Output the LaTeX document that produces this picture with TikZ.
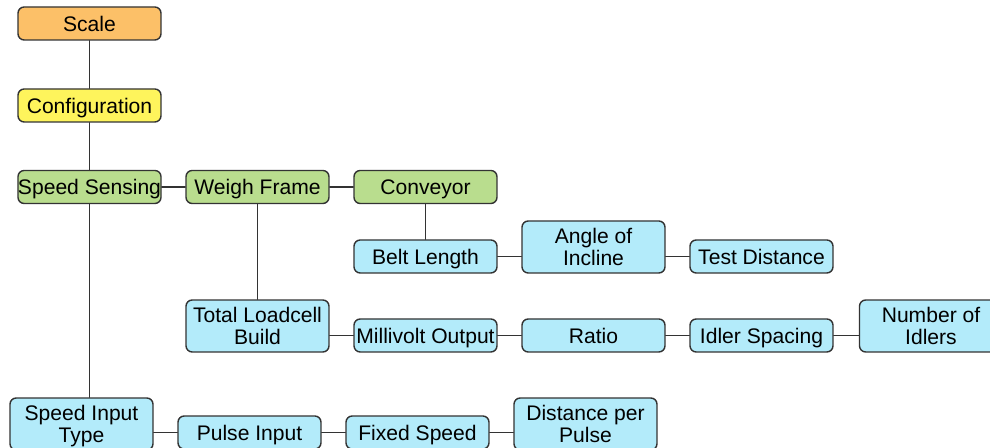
\documentclass[tikz,border=0pt]{standalone}
\usepackage{fontspec}
\setmainfont{Liberation Sans}
\usepackage{tikz}
\usetikzlibrary{positioning}
\definecolor{boxline}{HTML}{333333}
\definecolor{orange}{HTML}{FCC068}
\definecolor{yellow}{HTML}{FEF45C}
\definecolor{green}{HTML}{B9DD8E}
\definecolor{blue}{HTML}{B3EBFA}
\tikzset{
  every picture/.style={line join=round, line cap=round},
  box/.style={draw=boxline, line width=0.8pt, rounded corners=3.5pt,
    minimum width=2.86cm, minimum height=0.66cm, inner sep=0pt,
    text height=8.6pt, text depth=0pt,
    align=center, font=\fontsize{12}{12.5}\selectfont},
  tall/.style={minimum height=1.04cm, text height=21.1pt},
  link/.style={draw=boxline, line width=0.6pt},
}
\begin{document}
\begin{tikzpicture}[x=0.02cm, y=-0.02cm]
    \useasboundingbox (0,0) rectangle (990,448);

    % Top of the tree
    \node[box, fill=orange] (scale) at (89.5,23.5) {Scale};
    \node[box, fill=yellow] (config) at (89.5,105.5) {Configuration};

    % Green level
    \node[box, fill=green] (speed) at (89.5,187) {Speed Sensing};
    \node[box, fill=green] (weigh) at (257.5,187) {Weigh Frame};
    \node[box, fill=green] (conv) at (425.5,187) {Conveyor};

    % Conveyor row
    \node[box, fill=blue] (belt) at (425.5,256.5) {Belt Length};
    \node[box, tall, fill=blue] (angle) at (593.5,247) {Angle of\\Incline};
    \node[box, fill=blue] (test) at (761.5,256.5) {Test Distance};

    % Weigh frame row
    \node[box, tall, fill=blue] (load) at (257.5,326) {Total Loadcell\\Build};
    \node[box, fill=blue] (mvolt) at (425.5,335.5) {Millivolt Output};
    \node[box, fill=blue] (ratio) at (593.5,335.5) {Ratio};
    \node[box, fill=blue] (idler) at (761.5,335.5) {Idler Spacing};
    \node[box, tall, fill=blue] (nidlers) at (931,326) {Number of\\Idlers};

    % Speed row
    \node[box, tall, fill=blue] (input) at (81.5,424) {Speed Input\\Type};
    \node[box, fill=blue] (pulse) at (249.5,432.5) {Pulse Input};
    \node[box, fill=blue] (fixed) at (417.5,432.5) {Fixed Speed};
    \node[box, tall, fill=blue] (dist) at (585.5,424) {Distance per\\Pulse};

    % Vertical links
    \draw[link] (scale) -- (config);
    \draw[link] (config) -- (speed);
    \draw[link] (speed.south) -- (speed.south |- input.north);
    \draw[link] (weigh) -- (load);
    \draw[link] (conv) -- (belt);

    % Horizontal links
    \draw[link] (speed) -- (weigh);
    \draw[link] (weigh) -- (conv);
    \draw[link] (belt.east) -- (belt.east -| angle.west);
    \draw[link] (test.west) -- (test.west -| angle.east);
    \draw[link] (mvolt.west) -- (mvolt.west -| load.east);
    \draw[link] (mvolt) -- (ratio);
    \draw[link] (ratio) -- (idler);
    \draw[link] (idler.east) -- (idler.east -| nidlers.west);
    \draw[link] (pulse.west) -- (pulse.west -| input.east);
    \draw[link] (pulse) -- (fixed);
    \draw[link] (fixed.east) -- (fixed.east -| dist.west);
\end{tikzpicture}
\end{document}
